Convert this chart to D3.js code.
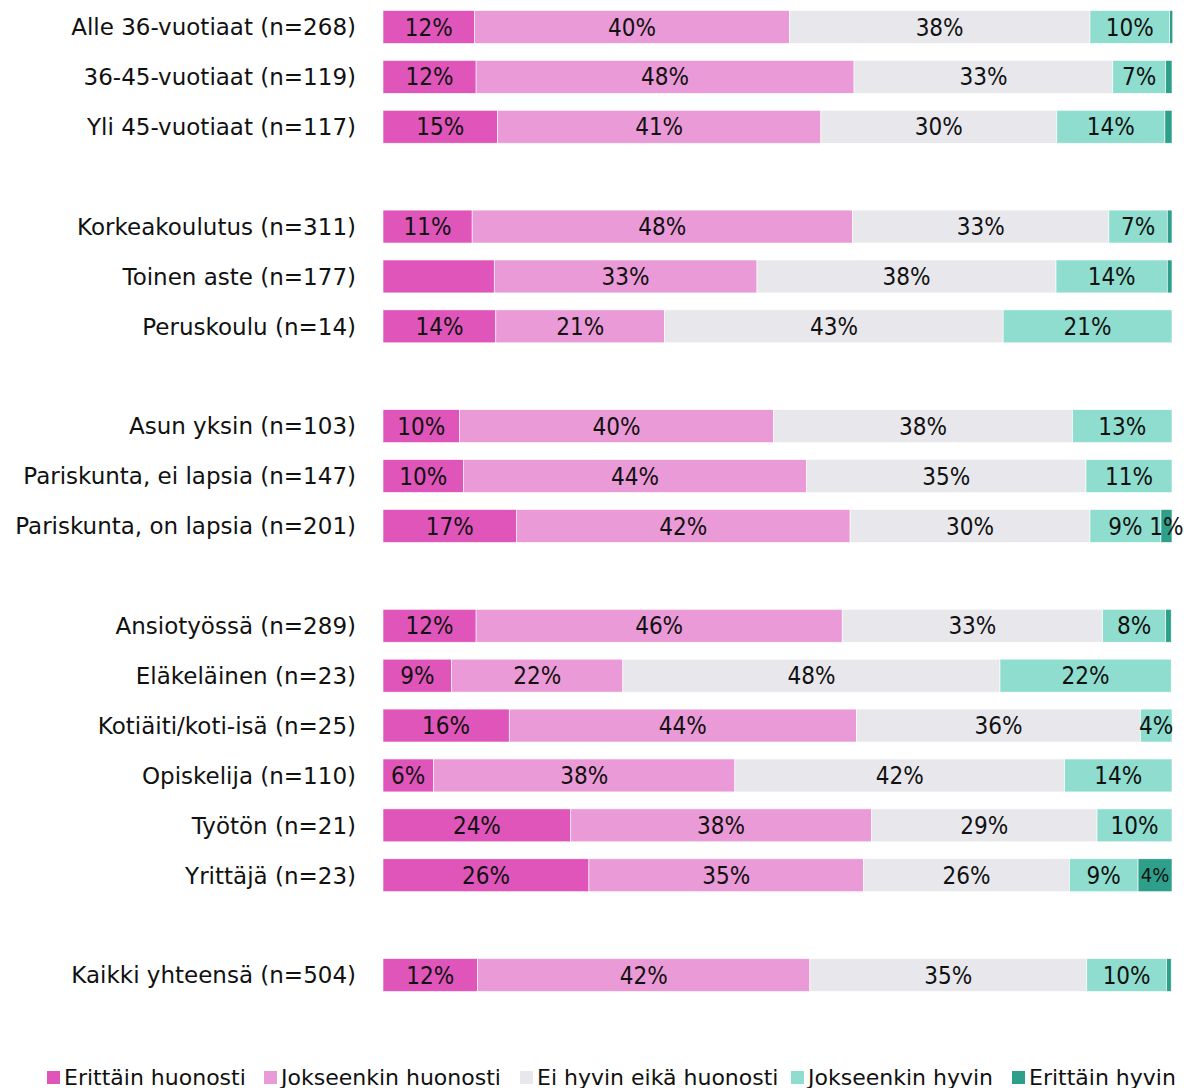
<!DOCTYPE html>
<html>
<head>
<meta charset="utf-8">
<title>Pinottu palkkikaavio</title>
<style>
body { margin: 0; background: #fff; }
svg text { font-family: "DejaVu Sans Condensed", "DejaVu Sans", sans-serif; fill: #111; }
.cat { font-size: 23px; font-family: "DejaVu Sans", sans-serif; }
.val { font-size: 24px; }
.leg { font-size: 22px; font-family: "DejaVu Sans", sans-serif; }
</style>
</head>
<body>
<svg width="1184" height="1088"></svg>
<script src="https://d3js.org/d3.v7.min.js"></script>
<script>

var categories = [
  "Alle 36-vuotiaat (n=268)", "36-45-vuotiaat (n=119)", "Yli 45-vuotiaat (n=117)",
  "Korkeakoulutus (n=311)", "Toinen aste (n=177)", "Peruskoulu (n=14)",
  "Asun yksin (n=103)", "Pariskunta, ei lapsia (n=147)", "Pariskunta, on lapsia (n=201)",
  "Ansiotyössä (n=289)", "Eläkeläinen (n=23)", "Kotiäiti/koti-isä (n=25)",
  "Opiskelija (n=110)", "Työtön (n=21)", "Yrittäjä (n=23)",
  "Kaikki yhteensä (n=504)"
];
// empty row after these indexes
var gapAfter = [2, 5, 8, 14];

var seriesNames = ["Erittäin huonosti", "Jokseenkin huonosti", "Ei hyvin eikä huonosti", "Jokseenkin hyvin", "Erittäin hyvin"];
var seriesColors = ["#df55ba", "#ea9ad6", "#e8e7ec", "#8fddce", "#2e9f8a"];

var erittainHuonosti   = [11.6, 11.8, 14.5, 11.3, 14.1, 14.3,  9.7, 10.2, 16.9, 11.8,  8.7, 16.0,  6.4, 23.8, 26.1, 12.0];
var jokseenkinHuonosti = [39.9, 47.9, 41.0, 48.2, 33.3, 21.4, 39.8, 43.5, 42.3, 46.4, 21.7, 44.0, 38.2, 38.1, 34.8, 42.1];
var eiHyvinEikaHuonosti= [38.1, 32.8, 29.9, 32.5, 37.9, 42.9, 37.9, 35.4, 30.4, 33.0, 47.8, 36.0, 41.8, 28.6, 26.1, 35.1];
var jokseenkinHyvin    = [10.1,  6.7, 13.7,  7.4, 14.1, 21.4, 12.6, 10.9,  9.0,  8.0, 21.7,  4.0, 13.6,  9.5,  8.7, 10.1];
var erittainHyvin      = [ 0.4,  0.8,  0.9,  0.6,  0.6,  0.0,  0.0,  0.0,  1.4,  0.7,  0.0,  0.0,  0.0,  0.0,  4.3,  0.6];

// labels the original leaves out: [row, series]
var hiddenLabels = [[4, 0]];

var values = [erittainHuonosti, jokseenkinHuonosti, eiHyvinEikaHuonosti, jokseenkinHyvin, erittainHyvin];

var svg = d3.select("svg");

// slot list with blank rows between groups
var slots = [];
categories.forEach(function(c, i) {
  slots.push(c);
  if (gapAfter.indexOf(i) >= 0) slots.push("gap" + i);
});

var y = d3.scaleBand()
  .domain(slots)
  .range([2, 1000])
  .paddingInner(0.34)
  .paddingOuter(0.17);

var x = d3.scaleLinear()
  .domain([0, 100])
  .range([383, 1172]);

var rows = categories.map(function(c, i) {
  var d = { cat: c };
  seriesNames.forEach(function(s, k) { d[s] = values[k][i]; });
  return d;
});

var stacked = d3.stack().keys(seriesNames)(rows);

var layer = svg.append("g").selectAll("g")
  .data(stacked)
  .enter().append("g")
  .attr("fill", function(d, k) { return seriesColors[k]; });

layer.selectAll("rect")
  .data(function(d) { return d; })
  .enter().append("rect")
  .attr("x", function(d) { return x(d[0]); })
  .attr("y", function(d) { return y(d.data.cat); })
  .attr("width", function(d) { return Math.max(0, x(d[1]) - x(d[0])); })
  .attr("height", y.bandwidth())
  .attr("stroke", "#fff")
  .attr("stroke-width", 0.6);

layer.each(function(s, k) {
  d3.select(this).selectAll("text")
    .data(s.filter(function(d, i) {
      var v = d[1] - d[0];
      var hidden = hiddenLabels.some(function(h) { return h[0] === i && h[1] === k; });
      return v >= 1 && !hidden;
    }))
    .enter().append("text")
    .attr("class", "val")
    .attr("x", function(d) { return (x(d[0]) + x(d[1])) / 2; })
    .attr("y", function(d) { return y(d.data.cat) + y.bandwidth() / 2; })
    .attr("dy", "0.36em")
    .attr("text-anchor", "middle")
    .style("font-size", function(d) { return (k === 4 && x(d[1]) - x(d[0]) > 30) ? "20px" : null; })
    .text(function(d) { return Math.round(d[1] - d[0]) + "%"; });
});

// category labels
svg.append("g").selectAll("text")
  .data(categories)
  .enter().append("text")
  .attr("class", "cat")
  .attr("x", 356)
  .attr("y", function(d) { return y(d) + y.bandwidth() / 2; })
  .attr("dy", "0.36em")
  .attr("text-anchor", "end")
  .text(function(d) { return d; });

// legend
var legX = [47, 264, 520, 791, 1012];
var leg = svg.append("g").selectAll("g")
  .data(seriesNames)
  .enter().append("g")
  .attr("transform", function(d, k) { return "translate(" + legX[k] + ",1071)"; });

leg.append("rect")
  .attr("width", 13)
  .attr("height", 13)
  .attr("fill", function(d, k) { return seriesColors[k]; });

leg.append("text")
  .attr("class", "leg")
  .attr("x", 17)
  .attr("y", 14)
  .text(function(d) { return d; });

</script>
</body>
</html>
